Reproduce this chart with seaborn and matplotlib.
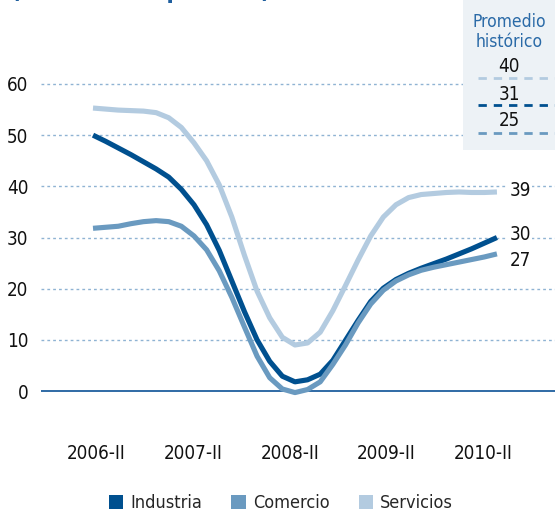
import pandas as pd
import matplotlib.pyplot as plt
import seaborn as sns
import numpy as np
from matplotlib.patches import Patch

# half-quarter readings from 2006-II (index 0) to 2010-II (index 32)
periodo = list(range(33))
industria = [50.0, 48.8, 47.5, 46.2, 44.8, 43.4, 41.8, 39.4, 36.4, 32.5, 27.5,
             21.5, 15.5, 10.0, 5.8, 2.9, 1.8, 2.2, 3.3, 6.0, 9.9, 13.8, 17.5,
             20.1, 21.8, 23.0, 24.0, 24.9, 25.8, 26.8, 27.8, 28.9, 30.0]
comercio = [31.8, 32.0, 32.2, 32.7, 33.1, 33.3, 33.1, 32.2, 30.3, 27.6, 23.5,
            18.3, 12.5, 6.8, 2.6, 0.4, -0.3, 0.3, 1.8, 5.2, 9.0, 13.3, 17.0,
            19.7, 21.5, 22.7, 23.6, 24.2, 24.7, 25.2, 25.7, 26.2, 26.8]
servicios = [55.3, 55.1, 54.9, 54.8, 54.7, 54.4, 53.4, 51.5, 48.5, 45.0, 40.3,
             34.0, 26.5, 19.5, 14.3, 10.5, 9.0, 9.4, 11.5, 15.7, 20.6, 25.6, 30.3,
             34.0, 36.4, 37.8, 38.4, 38.6, 38.8, 38.9, 38.8, 38.8, 38.9]

tick_labels = ["2006-II", "2007-II", "2008-II", "2009-II", "2010-II"]
series = ["Industria", "Comercio", "Servicios"]
colors = ["#00508f", "#6a9ac0", "#b3cbe0"]
end_labels = ["30", "27", "39"]
promedio = [40, 31, 25]
promedio_colors = ["#b3cbe0", "#00508f", "#6a9ac0"]

df = pd.DataFrame({
    "periodo": periodo * 3,
    "valor": industria + comercio + servicios,
    "sector": sum([[s] * len(periodo) for s in series], []),
})

sns.set_style("white")
plt.rcParams["font.family"] = ["DejaVu Sans"]
plt.rcParams["font.stretch"] = "condensed"

fig = plt.figure(figsize=(5.55, 5.12), dpi=100)
ax = fig.add_axes([41/555, 1-406.4/512, 514/555, 0.6597])

# grid
for v in [10, 20, 30, 40, 50, 60]:
    ax.axhline(v, color="#8fb3d3", lw=1, ls=(0, (2, 2.2)), zorder=0)
ax.axhline(0, color="#1f5f9e", lw=1.3, zorder=1)

sns.lineplot(data=df, x="periodo", y="valor", hue="sector", palette=colors,
             lw=3.7, legend=False, ax=ax, zorder=3)
for line in ax.get_lines():
    line.set_solid_capstyle("butt")
    line.set_solid_joinstyle("round")

ax.set_xlim(-4.12, 36.6)
ax.set_ylim(-3, 63)
ax.set_yticks([0, 10, 20, 30, 40, 50, 60])
ax.set_xticks([0.24, 7.92, 15.6, 23.2, 30.9])
ax.set_xticklabels(tick_labels)
ax.tick_params(axis="both", length=0, labelsize=13.5, colors="#111111")
ax.tick_params(axis="x", pad=27)
ax.tick_params(axis="y", pad=9)
ax.set_xlabel("")
ax.set_ylabel("")
for s in ax.spines.values():
    s.set_visible(False)

# end labels
last = [industria[-1], comercio[-1], servicios[-1]]
offs = [0.6, -1.2, 0.3]
for val, lab, o in zip(last, end_labels, offs):
    ax.text(33.0, val + o, lab, fontsize=13.5, va="center", ha="left",
            color="#111111",
            bbox=dict(facecolor="white", edgecolor="none", pad=1))

# top title, mostly cut off as in the source
fig.text(0.02, 1.004, "(saldo de respuestas)", fontsize=17, fontweight="bold",
         color="#1f5f9e", va="baseline", ha="left")

# historical average box
bx = fig.add_axes([463/555, 1-150/512, 92/555, 150/512])
bx.set_facecolor("#edf2f6")
bx.set_xlim(0, 92)
bx.set_ylim(150, 0)
bx.set_xticks([])
bx.set_yticks([])
for s in bx.spines.values():
    s.set_visible(False)
bx.text(46, 22, "Promedio", ha="center", va="center", fontsize=12.5, color="#2a6aa7")
bx.text(46, 42, "histórico", ha="center", va="center", fontsize=12.5, color="#2a6aa7")
ys_txt = [67, 94, 120]
ys_line = [78, 105, 133]
for p, c, yt, yl in zip(promedio, promedio_colors, ys_txt, ys_line):
    bx.text(46, yt, str(p), ha="center", va="center", fontsize=13.5, color="#111111")
    bx.plot([15, 92], [yl, yl], color=c, lw=2, ls=(0, (3, 2.5)))

# legend
handles = [Patch(facecolor=c, edgecolor="none") for c in colors]
fig.legend(handles, series, loc="center", bbox_to_anchor=(281/555, 1-503/512),
           ncol=3, frameon=False, fontsize=13, handlelength=0.8, handleheight=0.8,
           handletextpad=0.4, columnspacing=1.6)

fig.savefig("out.png", dpi=100)
